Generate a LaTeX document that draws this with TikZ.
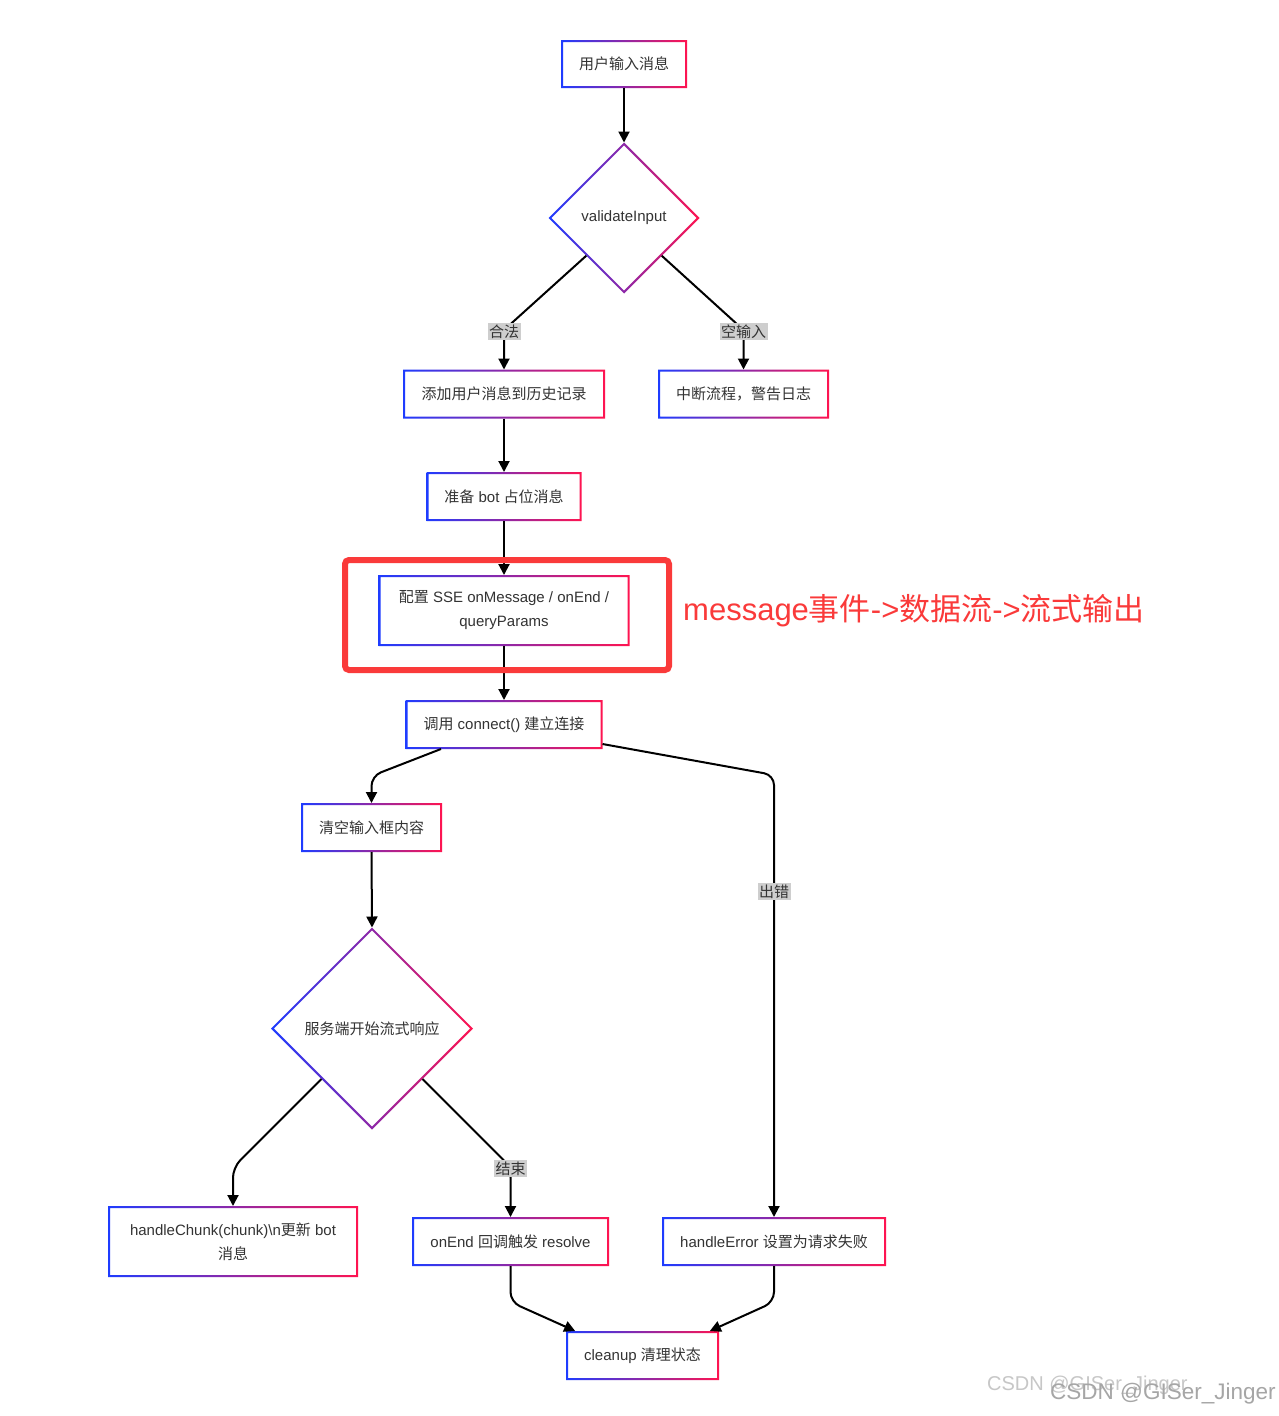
\documentclass[tikz,border=0pt]{standalone}
\usepackage{fontspec}
\setmainfont{Liberation Sans}
\newfontfamily\cjk{Noto Sans CJK SC}
\usetikzlibrary{shapes.geometric,arrows.meta,calc}
\definecolor{gblue}{RGB}{30,60,255}
\definecolor{gred}{RGB}{255,20,80}
\definecolor{txt}{RGB}{51,51,51}
\definecolor{hl}{RGB}{250,58,58}
\definecolor{lbl}{RGB}{206,206,206}
\newcommand\gradbox[1]{\shade[left color=gblue,right color=gred,even odd rule] (#1.south west) rectangle (#1.north east) ([shift={(2pt,2pt)}]#1.south west) rectangle ([shift={(-2pt,-2pt)}]#1.north east);}
\newcommand\graddia[1]{\shade[left color=gblue,right color=gred,even odd rule] (#1.north) -- (#1.east) -- (#1.south) -- (#1.west) -- cycle ([yshift=-2.8pt]#1.north) -- ([xshift=-2.8pt]#1.east) -- ([yshift=2.8pt]#1.south) -- ([xshift=2.8pt]#1.west) -- cycle;}
\begin{document}
\begin{tikzpicture}[x=1pt,y=-1pt,
  box/.style={rectangle, draw=none, fill=white, inner sep=0pt, outer sep=0pt, text=txt, font=\fontsize{15}{24}\selectfont, align=center},
  dia/.style={diamond, aspect=1, draw=none, fill=white, inner sep=0pt, outer sep=0pt, text=txt, font=\fontsize{15}{24}\selectfont},
  arr/.style={draw=black, line width=2pt, -{Triangle[length=11pt,width=11pt]}, rounded corners=10pt},
  lab/.style={fill=lbl, inner sep=1.5pt, text=txt, font=\fontsize{15}{18}\selectfont, rounded corners=0pt, yshift=-1.5pt},
  wm/.style={anchor=west, inner sep=0pt}]
\useasboundingbox (0,0) rectangle (1278,1416);
\fill[white] (0,0) rectangle (1278,1416);

\node[box, minimum width=126pt, minimum height=48pt] (n1) at (624,64) {{\cjk 用户输入消息}};
\node[dia, minimum width=151pt, minimum height=151pt] (v) at (624,218) {validateInput};
\node[box, minimum width=202pt, minimum height=49pt] (a1) at (504,394) {{\cjk 添加用户消息到历史记录}};
\node[box, minimum width=171pt, minimum height=49pt] (a2) at (743.5,394) {{\cjk 中断流程，警告日志}};
\node[box, minimum width=155pt, minimum height=49pt] (a3) at (504,496.5) {{\cjk 准备} bot {\cjk 占位消息}};
\node[box, minimum width=251pt, minimum height=71pt] (a4) at (504,610.5) {{\cjk 配置} SSE onMessage / onEnd /\\queryParams};
\node[box, minimum width=197pt, minimum height=49pt] (a5) at (504,724.5) {{\cjk 调用} connect() {\cjk 建立连接}};
\node[box, minimum width=141pt, minimum height=49pt] (a6) at (371.5,827.5) {{\cjk 清空输入框内容}};
\node[dia, minimum width=202pt, minimum height=202pt] (d2) at (372,1028.5) {{\cjk 服务端开始流式响应}};
\node[box, minimum width=250pt, minimum height=71pt] (b1) at (233,1241.5) {handleChunk(chunk)\textbackslash n{\cjk 更新} bot\\{\cjk 消息}};
\node[box, minimum width=197pt, minimum height=49pt] (b2) at (510.5,1241.5) {onEnd {\cjk 回调触发} resolve};
\node[box, minimum width=224pt, minimum height=49pt] (b3) at (774,1241.5) {handleError {\cjk 设置为请求失败}};
\node[box, minimum width=153pt, minimum height=49pt] (c) at (642.5,1355.5) {cleanup {\cjk 清理状态}};

\foreach \n in {n1,a1,a2,a3,a4,a5,a6,b1,b2,b3,c} {\gradbox{\n}}
\graddia{v}
\graddia{d2}

\draw[arr] (n1.south) -- (v.north);
\draw[arr] ($(v.west)!0.5!(v.south)$) -- (a1.north |- 0,330) node[lab] {{\cjk 合法}} -- (a1.north);
\draw[arr] ($(v.east)!0.5!(v.south)$) -- (a2.north |- 0,330) node[lab] {{\cjk 空输入}} -- (a2.north);
\draw[arr] (a1.south) -- (a3.north);
\draw[arr] (a3.south) -- (a4.north);
\draw[arr] (a4.south) -- (a5.north);
\draw[arr] ($(a5.south west)!0.18!(a5.south east)$) -- (a6.north |- 0,776) -- (a6.north);
\draw[arr] ([yshift=5pt]a5.south east) -- (b3.north |- 0,775) -- node[lab, pos=0.26] {{\cjk 出错}} (b3.north);
\draw[arr] (a6.south) -- (d2.north);
\draw[arr] ($(d2.west)!0.5!(d2.south)$) -- (b1.north |- 0,1167.5) -- (b1.north);
\draw[arr] ($(d2.east)!0.5!(d2.south)$) -- (b2.north |- 0,1167) node[lab] {{\cjk 结束}} -- (b2.north);
\draw[arr] (b2.south) -- ++(0,36) -- ($(c.north west)!0.06!(c.north east)$);
\draw[arr] (b3.south) -- ++(0,36) -- ($(c.north east)!0.06!(c.north west)$);

\node[draw=hl, line width=6pt, rounded corners=4pt, minimum width=324pt, minimum height=110pt, inner sep=0pt] (hlbox) at (507,615) {};
\node[anchor=west, inner sep=0pt, text=hl, font=\fontsize{31}{36}\selectfont] (note) at (683,611) {message{\cjk 事件}->{\cjk 数据流}->{\cjk 流式输出}};

\node[wm, text=black!22, font=\fontsize{20}{24}\selectfont] (wm1) at (987,1385) {CSDN @GISer\_Jinger};
\node[wm, text=black!35, font=\fontsize{22.5}{26}\selectfont] (wm2) at (1050,1394) {CSDN @GISer\_Jinger};
\end{tikzpicture}
\end{document}
